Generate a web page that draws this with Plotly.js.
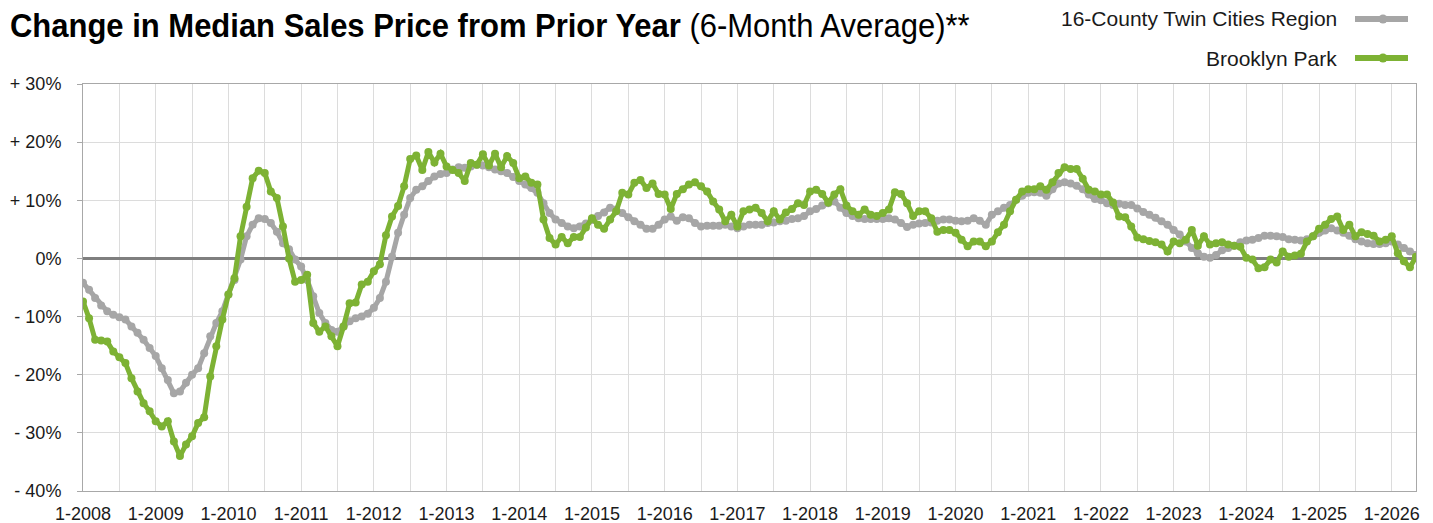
<!DOCTYPE html>
<html>
<head>
<meta charset="utf-8">
<script src="https://cdn.plot.ly/plotly-3.0.1.min.js"></script>
<style>
  html, body { margin: 0; padding: 0; background: #ffffff; }
  #chart { width: 1433px; height: 523px; }
</style>
</head>
<body>
<div id="chart"></div>
<script>
// Monthly series, first point = 1-2008, last point = 4-2026
const startYear = 2008;
const yearLabels = ['1-2008','1-2009','1-2010','1-2011','1-2012','1-2013','1-2014','1-2015','1-2016','1-2017','1-2018','1-2019','1-2020','1-2021','1-2022','1-2023','1-2024','1-2025','1-2026'];
const yTickValues = [-40, -30, -20, -10, 0, 10, 20, 30];
const yTickLabels = ['- 40%', '- 30%', '- 20%', '- 10%', '0%', '+ 10%', '+ 20%', '+ 30%'];
const seriesNames = ['16-County Twin Cities Region', 'Brooklyn Park'];

const twinCities = [
  -4.2, -5.4, -6.8, -8.1, -9.1, -9.7, -10.1, -10.5, -11.7, -12.8,
  -14.0, -15.4, -16.8, -18.9, -20.9, -23.2, -22.9, -21.4, -20.0, -18.9,
  -16.3, -13.4, -11.1, -9.1, -6.2, -3.7, -0.2, 3.8, 5.8, 6.9,
  6.8, 6.1, 4.6, 2.6, 1.6, -0.2, -1.4, -3.7, -6.5, -9.4,
  -11.1, -12.3, -12.6, -11.7, -10.8, -10.3, -10.0, -9.5, -8.5, -6.8,
  -4.0, 0.3, 4.4, 7.5, 10.4, 11.8, 12.4, 13.3, 14.1, 14.5,
  14.7, 15.3, 15.7, 15.6, 15.8, 16.1, 16.0, 15.7, 15.3, 15.0,
  14.7, 14.0, 13.3, 12.7, 12.1, 11.3, 9.5, 7.8, 6.7, 6.1,
  5.5, 5.2, 5.5, 6.0, 6.6, 7.3, 7.9, 8.7, 8.4, 7.8,
  7.1, 6.4, 5.8, 5.1, 5.1, 5.8, 6.7, 7.2, 6.5, 7.1,
  6.9, 6.1, 5.5, 5.6, 5.6, 5.6, 5.8, 5.5, 5.2, 5.5,
  5.8, 5.8, 5.8, 6.1, 6.2, 6.4, 6.5, 6.8, 6.9, 7.3,
  8.1, 8.5, 9.1, 9.5, 9.8, 8.7, 7.8, 7.3, 6.9, 6.8,
  6.8, 6.8, 6.8, 6.9, 6.7, 6.1, 5.4, 5.8, 6.0, 6.1,
  6.2, 6.5, 6.7, 6.7, 6.5, 6.4, 6.5, 6.9, 6.5, 5.8,
  7.5, 8.1, 8.7, 9.2, 10.1, 10.8, 11.3, 11.4, 11.3, 10.8,
  11.9, 12.9, 13.1, 12.9, 12.5, 11.9, 11.0, 10.2, 10.0, 9.5,
  9.2, 9.4, 9.2, 9.2, 8.6, 8.0, 7.5, 7.0, 6.4, 5.8,
  4.9, 4.1, 2.9, 1.8, 0.9, 0.3, 0.1, 0.6, 1.4, 1.8,
  2.2, 2.8, 3.1, 3.2, 3.5, 3.9, 3.9, 3.8, 3.7, 3.3,
  3.2, 3.1, 3.3, 3.8, 4.4, 4.8, 5.2, 4.8, 4.4, 3.9,
  3.3, 2.9, 2.6, 2.5, 2.5, 2.6, 2.9, 2.4, 1.8, 1.2,
  0.6
];

const brooklynPark = [
  -7.4, -10.3, -14.0, -14.1, -14.3, -16.0, -17.0, -18.0, -20.6, -22.9,
  -24.9, -26.3, -28.0, -28.9, -28.0, -31.5, -34.0, -32.0, -30.6, -28.3,
  -27.3, -20.3, -15.1, -10.5, -6.2, -3.4, 3.8, 8.9, 13.8, 15.1,
  14.7, 11.5, 10.4, 5.5, 0.0, -4.0, -3.7, -2.8, -11.1, -12.6,
  -11.7, -13.4, -15.1, -11.7, -7.7, -7.6, -4.5, -4.0, -2.2, -1.0,
  4.0, 7.2, 9.0, 12.4, 17.1, 17.7, 15.2, 18.3, 16.5, 18.0,
  15.8, 15.2, 14.7, 13.3, 16.4, 16.1, 17.9, 16.0, 18.0, 15.7,
  17.6, 16.4, 13.8, 14.1, 13.0, 12.7, 6.7, 3.5, 2.4, 3.7,
  2.6, 3.7, 3.7, 5.3, 6.9, 5.8, 5.1, 6.7, 8.1, 11.3,
  11.0, 13.0, 13.5, 12.1, 12.9, 11.1, 11.0, 8.5, 11.1, 11.9,
  12.7, 13.1, 12.4, 11.5, 9.8, 8.4, 6.4, 7.5, 5.5, 8.1,
  8.4, 8.7, 7.8, 6.4, 8.1, 6.7, 7.9, 8.5, 9.5, 9.2,
  11.5, 11.8, 11.1, 9.6, 11.0, 11.9, 9.1, 8.1, 7.5, 8.4,
  7.5, 7.3, 7.8, 8.4, 11.4, 11.1, 9.5, 7.3, 8.1, 8.1,
  6.9, 4.6, 4.9, 4.9, 4.4, 3.2, 2.1, 2.9, 2.9, 2.1,
  2.9, 4.5, 5.8, 8.1, 10.1, 11.5, 11.9, 11.9, 12.4, 11.8,
  13.1, 14.7, 15.7, 15.4, 15.4, 13.7, 11.8, 11.5, 11.0, 11.0,
  9.6, 7.2, 7.1, 5.5, 3.6, 3.3, 3.0, 2.8, 2.4, 1.2,
  2.9, 2.6, 3.2, 4.9, 2.2, 3.8, 2.4, 2.6, 2.8, 2.4,
  2.2, 2.0, 0.1, -0.2, -1.7, -1.5, -0.2, -0.7, 1.2, 0.3,
  0.5, 0.8, 2.9, 3.8, 5.1, 5.8, 6.8, 7.2, 4.9, 5.8,
  3.8, 4.5, 4.2, 3.9, 2.9, 3.2, 3.8, 0.9, -0.5, -1.5,
  0.3
];

// month index axis (0 = 1-2008)
const monthIndex = twinCities.map((_, i) => i);
const monthLabels = monthIndex.map(i => ((i % 12) + 1) + '-' + (startYear + Math.floor(i / 12)));
const yearTickPositions = yearLabels.map((_, i) => i * 12);

const GRAY = '#a6a6a6';
const GREEN = '#7db234';
const FONT = '"Liberation Sans", Arial, Helvetica, sans-serif';

const traces = [
  {
    x: monthIndex, y: twinCities, text: monthLabels, name: seriesNames[0],
    type: 'scatter', mode: 'lines+markers',
    line: { color: GRAY, width: 5 },
    marker: { color: GRAY, size: 8 },
    hovertemplate: '%{text}: %{y:.1f}%<extra>' + seriesNames[0] + '</extra>'
  },
  {
    x: monthIndex, y: brooklynPark, text: monthLabels, name: seriesNames[1],
    type: 'scatter', mode: 'lines+markers',
    line: { color: GREEN, width: 5 },
    marker: { color: GREEN, size: 8 },
    hovertemplate: '%{text}: %{y:.1f}%<extra>' + seriesNames[1] + '</extra>'
  }
];

// plot area geometry (pixels) used only to place the manual legend
const L = 83, R = 1416, T = 84, B = 491;
const px = v => (v - L) / (R - L);
const py = v => (B - v) / (B - T);

const legendRows = [
  { name: seriesNames[0], color: GRAY, yPix: 19 },
  { name: seriesNames[1], color: GREEN, yPix: 58 }
];

const annotations = legendRows.map(r => ({
  xref: 'paper', yref: 'paper', x: px(1339), y: py(r.yPix),
  xanchor: 'right', yanchor: 'middle', showarrow: false,
  text: r.name, font: { family: FONT, size: 21, color: '#1a1a1a' }
}));

const shapes = [];
legendRows.forEach(r => {
  shapes.push({
    type: 'line', xref: 'paper', yref: 'paper',
    x0: px(1355), x1: px(1408), y0: py(r.yPix), y1: py(r.yPix),
    line: { color: r.color, width: 6 }
  });
  shapes.push({
    type: 'circle', xref: 'paper', yref: 'paper',
    xsizemode: 'pixel', ysizemode: 'pixel',
    xanchor: px(1383), yanchor: py(r.yPix),
    x0: -4.5, x1: 4.5, y0: -4.5, y1: 4.5,
    fillcolor: r.color, line: { width: 0 }
  });
});

const layout = {
  width: 1433, height: 523,
  margin: { l: L, r: 1433 - R, t: T, b: 523 - B, pad: 0 },
  paper_bgcolor: '#ffffff', plot_bgcolor: '#ffffff',
  showlegend: false,
  font: { family: FONT, size: 18, color: '#1a1a1a' },
  title: {
    text: '<b>Change in Median Sales Price from Prior Year</b> (6-Month Average)**',
    font: { family: FONT, size: 34, color: '#000000' },
    xref: 'container', yref: 'container',
    x: 10 / 1433, xanchor: 'left',
    y: 1 - 25 / 523, yanchor: 'middle'
  },
  xaxis: {
    range: [0, twinCities.length - 1],
    tickmode: 'array', tickvals: yearTickPositions, ticktext: yearLabels,
    ticks: '', showgrid: true, gridcolor: '#dcdcdc', gridwidth: 1,
    minor: { dtick: 6, tick0: 0, showgrid: true, gridcolor: '#dcdcdc', gridwidth: 1 },
    showline: true, linecolor: '#a8a8a8', linewidth: 1, mirror: true,
    zeroline: false,
    tickfont: { family: FONT, size: 18, color: '#1a1a1a' },
    ticklabelstandoff: 6,
    fixedrange: true
  },
  yaxis: {
    range: [-40, 30],
    tickmode: 'array', tickvals: yTickValues, ticktext: yTickLabels,
    ticks: 'outside', ticklen: 5, tickcolor: '#a8a8a8', tickwidth: 1,
    showgrid: true, gridcolor: '#dcdcdc', gridwidth: 1,
    showline: true, linecolor: '#a8a8a8', linewidth: 1, mirror: true,
    zeroline: true, zerolinecolor: '#7f7f7f', zerolinewidth: 3,
    tickfont: { family: FONT, size: 18, color: '#1a1a1a' },
    ticklabelstandoff: 12,
    fixedrange: true
  },
  annotations: annotations,
  shapes: shapes
};

// condense the title horizontally (reference uses a condensed typeface)
function condenseTitle() {
  const t = document.querySelector('#chart .gtitle');
  if (!t) return;
  t.removeAttribute('transform');
  const bb = t.getBBox();
  const targetWidth = 960;
  if (bb.width <= 0) return;
  const sx = targetWidth / bb.width;
  t.setAttribute('transform', 'translate(' + (bb.x * (1 - sx)) + ',0) scale(' + sx + ',1)');
}

Plotly.newPlot('chart', traces, layout, { displayModeBar: false, staticPlot: true }).then(condenseTitle);
</script>
</body>
</html>
